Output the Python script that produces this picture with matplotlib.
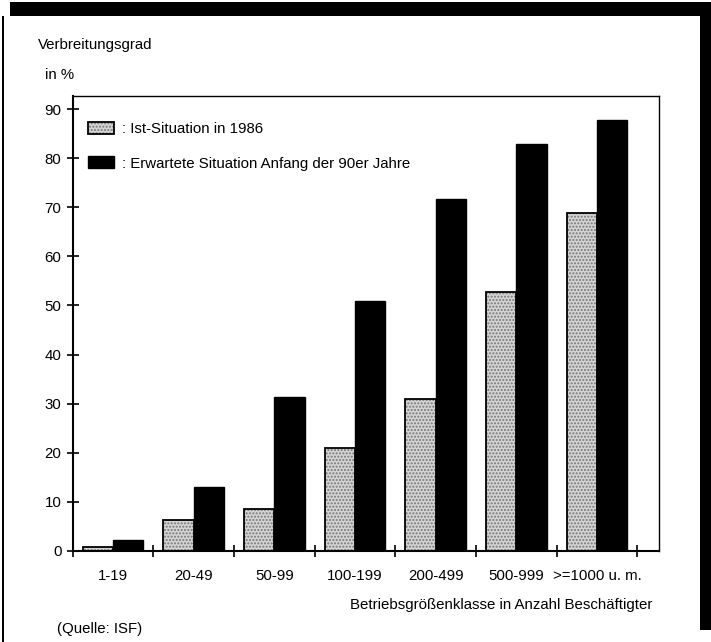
import matplotlib
matplotlib.use("Agg")
import matplotlib.pyplot as plt
from matplotlib.patches import Patch, Rectangle
from matplotlib.legend_handler import HandlerTuple
import numpy as np

categories = ["1-19", "20-49", "50-99", "100-199", "200-499", "500-999", ">=1000 u. m."]
ist_1986 = [0.8, 6.3, 8.6, 20.9, 31.0, 52.8, 68.8]
erwartet_90er = [2.3, 13.0, 31.4, 51.0, 71.6, 82.9, 87.8]
yticks = [0, 10, 20, 30, 40, 50, 60, 70, 80, 90]
label_ist = ": Ist-Situation in 1986"
label_erw = ": Erwartete Situation Anfang der 90er Jahre"

plt.rcParams['font.family'] = ['Liberation Sans', 'DejaVu Sans']
FS = 10.8
W, H = 711, 642
fig = plt.figure(figsize=(W / 100, H / 100), dpi=100)

ax = fig.add_axes([72.5 / W, 1 - 551 / H, (659 - 72.5) / W, (551 - 96) / H])
x = np.arange(len(categories))
bw = 0.375
gray_face = '#d4d4d4'
ax.bar(x - bw / 2, ist_1986, bw, facecolor=gray_face, edgecolor='#777777',
       linewidth=0, hatch='.....', zorder=2)
ax.bar(x - bw / 2, ist_1986, bw, fill=False, edgecolor='black', linewidth=1.3, zorder=3)
ax.bar(x + bw / 2, erwartet_90er, bw, color='black', edgecolor='black', linewidth=1.0, zorder=3)

ax.set_xlim(-0.5, -0.5 + (659 - 72.5) / 80.7)
ax.set_ylim(0, (551 - 96) / 4.91)
ax.set_yticks(yticks)
ax.set_yticklabels([str(v) for v in yticks], fontsize=FS)
ax.set_xticks(np.arange(-0.5, len(categories), 1.0))
ax.set_xticklabels([])
ax.set_xticks(x, minor=True)
ax.set_xticklabels(categories, minor=True, fontsize=FS)
ax.tick_params(axis='x', which='minor', length=0, pad=13)
ax.tick_params(axis='x', which='major', direction='inout', length=8, width=1.2)
ax.tick_params(axis='y', direction='inout', length=8, width=1.2, pad=4)
for s in ['left', 'bottom']:
    ax.spines[s].set_linewidth(1.5)
for s in ['top', 'right']:
    ax.spines[s].set_linewidth(1.0)

h_gray = (Patch(facecolor=gray_face, edgecolor='#777777', hatch='.....', linewidth=0),
          Patch(fill=False, edgecolor='black', linewidth=1.3))
h_black = Patch(facecolor='black', edgecolor='black')
ax.legend([h_gray, h_black], [label_ist, label_erw],
          handler_map={tuple: HandlerTuple(ndivide=1, pad=0)},
          loc='upper left', bbox_to_anchor=(88 / W, 1 - 122 / H),
          bbox_transform=fig.transFigure, frameon=False, fontsize=FS,
          handlelength=1.7, handleheight=0.85, handletextpad=0.6,
          labelspacing=1.35, borderpad=0, borderaxespad=0)

fig.text(38 / W, 1 - 45 / H, "Verbreitungsgrad", fontsize=FS, va='center', ha='left')
fig.text(45 / W, 1 - 75 / H, "in %", fontsize=FS, va='center', ha='left')
fig.text(652 / W, 1 - 605 / H, "Betriebsgrößenklasse in Anzahl Beschäftigter",
         fontsize=FS, va='center', ha='right')
fig.text(57 / W, 1 - 629 / H, "(Quelle: ISF)", fontsize=FS, va='center', ha='left')

# scanned page frame
def px_rect(x0, y0, x1, y1):
    fig.patches.append(Rectangle((x0 / W, 1 - y1 / H), (x1 - x0) / W, (y1 - y0) / H,
                                 transform=fig.transFigure, facecolor='black',
                                 edgecolor='none', zorder=10))
px_rect(10, 2, 711, 16)
px_rect(700, 2, 711, 630)
px_rect(2, 16, 4, 642)

fig.savefig("out.png", dpi=100)
